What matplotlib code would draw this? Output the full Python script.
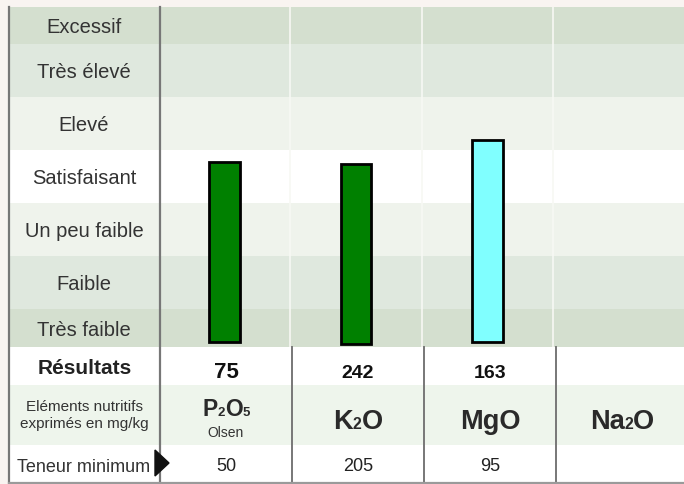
import numpy as np
import matplotlib
matplotlib.use("Agg")
import matplotlib.pyplot as plt
from matplotlib.patches import Polygon

plt.rcParams['font.family'] = ['Liberation Sans', 'DejaVu Sans']

# levels, from top to bottom, with their band height (px) and colour
levels = ["Excessif", "Très élevé", "Elevé", "Satisfaisant", "Un peu faible", "Faible", "Très faible"]
band_heights = [37, 53, 53, 53, 53, 53, 38]
band_colors = ["#d4dfcf", "#dfe8de", "#eff3ec", "#ffffff", "#eff3ec", "#dfe8de", "#d4dfcf"]

# elements
elements = [[("P", 0), ("2", 1), ("O", 0), ("5", 1)],
            [("K", 0), ("2", 1), ("O", 0)],
            [("MgO", 0)],
            [("Na", 0), ("2", 1), ("O", 0)]]
element_notes = ["Olsen", "", "", ""]
results = ["75", "242", "163", ""]
minimums = ["50", "205", "95", ""]

# bars on the level scale (same units as band_heights)
bar_bottoms = [5, 3, 5]
bar_tops = [185, 183, 207]
bar_colors = ["#008000", "#008000", "#80ffff"]

txt = "#333333"
line_dark = "#777777"

fig = plt.figure(figsize=(6.84, 4.84), dpi=100)
fig.patch.set_facecolor("#f9f4f1")

W, H = 684, 484
left, split, col_w = 9, 160, 132
top, chart_bottom = 7, 347
row_edges = [347, 385, 445, 483]

# chart axes: bands + bars
cax = fig.add_axes([left / W, (H - chart_bottom) / H, (W - left) / W, (chart_bottom - top) / H])
label_w = (split - left) / col_w
cax.set_xlim(-0.5 - label_w, 3.5)
cax.set_ylim(0, sum(band_heights))
cax.axis("off")

# main axes in pixel coordinates for the table, drawn above the chart
ax = fig.add_axes([0, 0, 1, 1])
ax.set_xlim(0, W)
ax.set_ylim(H, 0)
ax.axis("off")

edges = np.concatenate([[0], np.cumsum(band_heights[::-1])])
for i, (lab, col) in enumerate(zip(levels[::-1], band_colors[::-1])):
    cax.axhspan(edges[i], edges[i + 1], color=col, lw=0, zorder=0)
    cax.text(-0.5 - label_w / 2, (edges[i] + edges[i + 1]) / 2, lab, ha="center",
             va="center_baseline", fontsize=14.5, color=txt)

for xv in [0.5, 1.5, 2.5]:
    cax.axvline(xv, color="#f7f8f4", lw=1.2, zorder=1)

x = np.arange(len(bar_tops))
cax.bar(x, np.array(bar_tops) - np.array(bar_bottoms), bottom=bar_bottoms, width=31 / col_w,
        color=bar_colors, edgecolor="black", linewidth=2, zorder=3)

# lower table rows
row_colors = ["#ffffff", "#eef5ec", "#ffffff"]
for i, c in enumerate(row_colors):
    ax.axhspan(row_edges[i], row_edges[i + 1], xmin=left / W, xmax=1, color=c, lw=0, zorder=0)

# lines
ax.plot([left, left], [top, row_edges[-1]], color=line_dark, lw=1.6, zorder=5)
ax.plot([split, split], [top, row_edges[-1]], color=line_dark, lw=1.6, zorder=5)
for k in range(1, 4):
    xx = split + k * col_w
    ax.plot([xx, xx], [chart_bottom, row_edges[-1]], color=line_dark, lw=1.4, zorder=5)
ax.plot([left, W], [row_edges[-1], row_edges[-1]], color="#9a9a9a", lw=1.6, zorder=5)

# row headers
lab_x = (left + split) / 2
ax.text(lab_x, 374, "Résultats", ha="center", va="baseline", fontsize=15, fontweight="bold", color="#222222")
ax.text(lab_x, 411, "Eléments nutritifs", ha="center", va="baseline", fontsize=11, color=txt)
ax.text(lab_x, 428, "exprimés en mg/kg", ha="center", va="baseline", fontsize=11, color=txt)
ax.text(17, 472, "Teneur minimum", ha="left", va="baseline", fontsize=13, color=txt)
ax.add_patch(Polygon([[155, 450], [155, 476], [169, 463]], closed=True, color="#111111", zorder=6))

renderer = fig.canvas.get_renderer()


def formula(xc, yb, parts, size):
    pieces = []
    for s, small in parts:
        t = ax.text(0, yb, s, fontsize=size * 0.58 if small else size, fontweight="bold",
                    ha="left", va="baseline", color="#2a2a2a")
        pieces.append(t)
    widths = [t.get_window_extent(renderer).width for t in pieces]
    xs = xc - sum(widths) / 2
    for t, w in zip(pieces, widths):
        t.set_x(xs)
        xs += w


for i in range(4):
    xc = split + (i + 0.5) * col_w
    if results[i]:
        ax.text(xc, 378, results[i], ha="center", va="baseline",
                fontsize=16 if i == 0 else 14, fontweight="bold", color="#111111")
    if element_notes[i]:
        formula(xc, 416, elements[i], 16.5)
        ax.text(xc, 437, element_notes[i], ha="center", va="baseline", fontsize=10, color=txt)
    else:
        formula(xc, 429, elements[i], 19.5)
    if minimums[i]:
        ax.text(xc, 471, minimums[i], ha="center", va="baseline", fontsize=13, color="#222222")

fig.savefig("out.png", dpi=100, facecolor=fig.get_facecolor())
